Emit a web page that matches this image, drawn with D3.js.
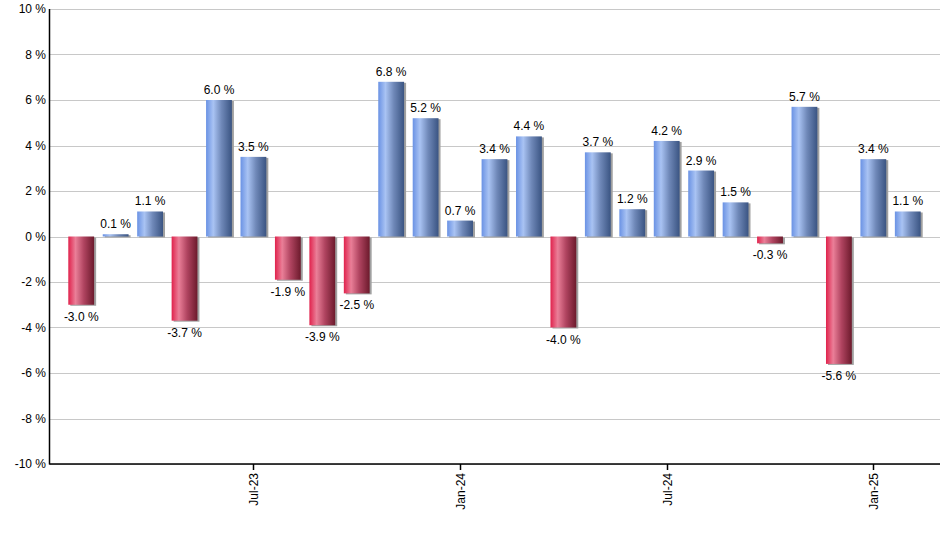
<!DOCTYPE html>
<html><head><meta charset="utf-8">
<script src="https://cdn.jsdelivr.net/npm/d3@7"></script>
<style>body{margin:0;background:#fff}svg{display:block}text{font-family:Arial,"Liberation Sans",sans-serif}</style>
</head><body><svg id="c" width="940" height="550"></svg>
<script>
const months = ["Feb-23","Mar-23","Apr-23","May-23","Jun-23","Jul-23","Aug-23","Sep-23","Oct-23","Nov-23","Dec-23","Jan-24","Feb-24","Mar-24","Apr-24","May-24","Jun-24","Jul-24","Aug-24","Sep-24","Oct-24","Nov-24","Dec-24","Jan-25","Feb-25"];
const values = [-3.0,0.1,1.1,-3.7,6.0,3.5,-1.9,-3.9,-2.5,6.8,5.2,0.7,3.4,4.4,-4.0,3.7,1.2,4.2,2.9,1.5,-0.3,5.7,-5.6,3.4,1.1];
const xTickLabels = ["Jul-23","Jan-24","Jul-24","Jan-25"];
const yTicks = [-10,-8,-6,-4,-2,0,2,4,6,8,10];

(function(){
const svg = d3.select("#c");
const pl = 49.5, pr = 940, pt = 9, pb = 464;
const x = d3.scaleBand().domain(months).range([64, 925]).paddingInner(0.25).paddingOuter(0.125);
const y = d3.scaleLinear().domain([-10, 10]).range([pb, pt]);

const defs = svg.append("defs");
function grad(id, stops) {
  const g = defs.append("linearGradient").attr("id", id).attr("x1","0%").attr("x2","100%").attr("y1","0%").attr("y2","0%");
  stops.forEach(s => g.append("stop").attr("offset", s[0]).attr("stop-color", s[1]));
}
grad("gBlue", [["0%","#6a92e4"],["28%","#a9c3f3"],["60%","#6f88b8"],["100%","#3a5482"]]);
grad("gRed", [["0%","#e0224c"],["28%","#ea7f98"],["60%","#b04460"],["100%","#6c1a2c"]]);

svg.append("g").selectAll("line").data(yTicks).join("line")
  .attr("x1", pl).attr("x2", pr)
  .attr("y1", d => Math.round(y(d)) + 0.5).attr("y2", d => Math.round(y(d)) + 0.5)
  .attr("stroke", "#c8c8c8").attr("stroke-width", 1);

svg.append("g").selectAll("text").data(yTicks).join("text")
  .attr("x", 46).attr("y", d => y(d)).attr("dy", "0.35em")
  .attr("text-anchor", "end").attr("font-size", 12).attr("fill", "#000")
  .text(d => d + " %");

const bw = x.bandwidth();
svg.append("g").selectAll("rect").data(values).join("rect")
  .attr("x", (d,i) => x(months[i]) + 2)
  .attr("y", d => d >= 0 ? y(d) + 1 : y(0) + 1)
  .attr("width", bw)
  .attr("height", d => Math.abs(y(d) - y(0)))
  .attr("fill", "#a0a0a0");
svg.append("g").selectAll("rect").data(values).join("rect")
  .attr("x", (d,i) => x(months[i]))
  .attr("y", d => d >= 0 ? y(d) : y(0))
  .attr("width", bw)
  .attr("height", d => Math.abs(y(d) - y(0)))
  .attr("fill", d => d >= 0 ? "url(#gBlue)" : "url(#gRed)");

svg.append("g").selectAll("text").data(values).join("text")
  .attr("x", (d,i) => x(months[i]) + bw/2)
  .attr("y", d => d >= 0 ? y(d) - 6 : y(d) + 16)
  .attr("text-anchor", "middle").attr("font-size", 12).attr("fill", "#000")
  .text(d => d.toFixed(1) + " %");

svg.append("line").attr("x1", pl).attr("x2", pl).attr("y1", pt).attr("y2", pb + 0.5).attr("stroke", "#000").attr("stroke-width", 1.5);
svg.append("line").attr("x1", pl).attr("x2", pr).attr("y1", pb).attr("y2", pb).attr("stroke", "#000").attr("stroke-width", 1.5);

const xt = svg.append("g").selectAll("g").data(xTickLabels).join("g")
  .attr("transform", d => `translate(${Math.round(x(d) + bw/2) + 0.5},${pb})`);
xt.append("line").attr("y1", 0).attr("y2", 6).attr("stroke", "#000").attr("stroke-width", 1.5);
xt.append("text").attr("transform", "rotate(-90)").attr("x", -9).attr("y", 0).attr("dy", "0.35em")
  .attr("text-anchor", "end").attr("font-size", 12).attr("fill", "#000").text(d => d);
})();
</script></body></html>
